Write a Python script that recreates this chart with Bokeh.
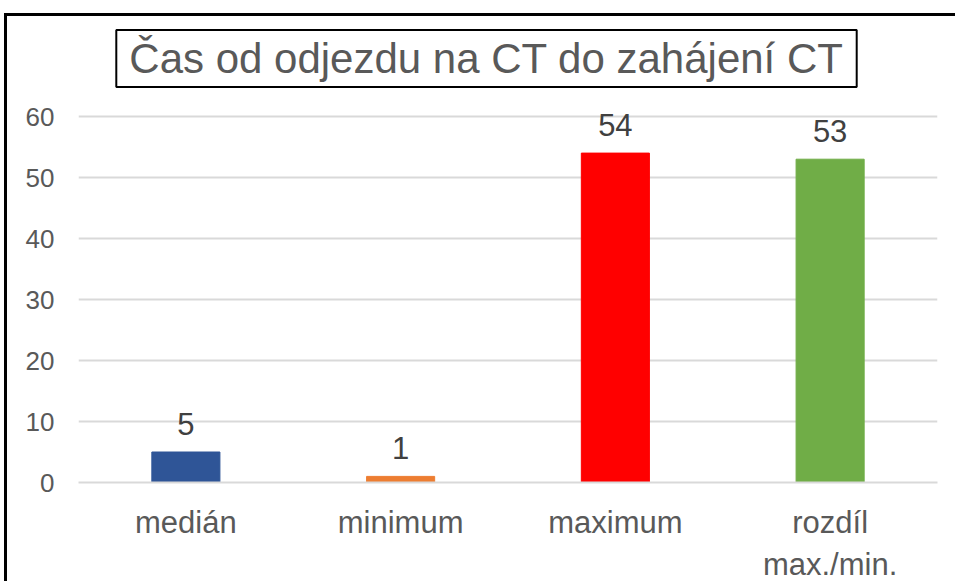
from bokeh.plotting import figure
from bokeh.models import ColumnDataSource, LabelSet, Label
from bokeh.core.properties import value
from bokeh.embed import file_html
from bokeh.resources import INLINE

categories = ["medián", "minimum", "maximum", "rozdíl\nmax./min."]
values = [5, 1, 54, 53]
colors = ["#2F5597", "#ED7D31", "#FF0000", "#70AD47"]
title_text = "Čas od odjezdu na CT do zahájení CT"
y_ticks = [0, 10, 20, 30, 40, 50, 60]

source = ColumnDataSource(dict(cat=categories, val=values, color=colors,
                               lbl=[str(v) for v in values]))

W, H = 951, 568
# frame spans from the chart-area top to the zero line; 60 sits at 100px below top
y_top = 60 + 100 / (366 / 60)
p = figure(x_range=categories, y_range=(0, y_top), width=W, height=H,
           output_backend="svg", toolbar_location=None,
           min_border_left=71, min_border_right=21,
           min_border_top=0, min_border_bottom=102)
p.styles = {"border-top": "3px solid black", "border-left": "3px solid black",
            "margin-left": "4px", "margin-top": "13px"}

p.vbar(x="cat", top="val", width=0.317, color="color", source=source)

labels = LabelSet(x="cat", y="val", text="lbl", source=source,
                  text_align="center", text_baseline="alphabetic", y_offset=17,
                  text_font=value("Liberation Sans"), text_font_size="31px",
                  text_color="#404040")
p.add_layout(labels)

title = Label(x=408, y=424, x_units="screen", y_units="screen",
              text=title_text, text_align="center", text_baseline="middle",
              text_font="Liberation Sans", text_font_size="42px",
              text_color="#595959", border_line_color="black",
              border_line_width=2, background_fill_color="white",
              padding=(13, 5))
p.add_layout(title)

p.outline_line_color = None
p.xgrid.grid_line_color = None
p.ygrid.grid_line_color = "#D9D9D9"
p.ygrid.grid_line_width = 2
p.yaxis.ticker = y_ticks
p.yaxis.axis_line_color = None
p.yaxis.major_tick_line_color = None
p.yaxis.minor_tick_line_color = None
p.yaxis.major_label_standoff = 18
p.yaxis.major_label_text_font = "Liberation Sans"
p.yaxis.major_label_text_font_size = "26px"
p.yaxis.major_label_text_color = "#595959"

p.xaxis.axis_line_color = "#D9D9D9"
p.xaxis.axis_line_width = 2
p.xaxis.major_tick_line_color = None
p.xaxis.minor_tick_line_color = None
p.xaxis.major_label_standoff = 16
p.xaxis.major_label_text_font = "Liberation Sans"
p.xaxis.major_label_text_font_size = "31px"
p.xaxis.major_label_text_color = "#595959"

p.background_fill_color = "white"
p.border_fill_color = "white"

open("out.html", "w").write(file_html(p, INLINE))
